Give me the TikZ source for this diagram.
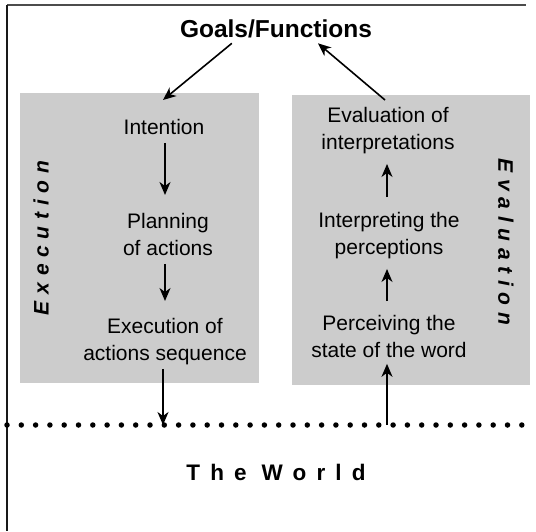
\documentclass[tikz,border=0pt]{standalone}
\usepackage{fontspec}
\setmainfont{Liberation Sans}
\usetikzlibrary{arrows.meta}
\begin{document}
\begin{tikzpicture}[x=1pt,y=-1pt,
  arr/.style={line width=1.6pt,-{Stealth[length=13pt,width=11pt,inset=4pt]}},
  lbl/.style={font=\fontsize{21}{27}\selectfont, align=center, inner sep=0pt, anchor=north},
  side/.style={font=\fontsize{21}{24}\selectfont\bfseries\itshape\addfontfeature{LetterSpace=32}, inner sep=0pt},
  panel/.style={fill=black!20, draw=none}]
\useasboundingbox (0,0) rectangle (536,531);
% frame
\draw[line width=1.6pt, black!70] (7,5) -- (526,5);
\draw[line width=1.8pt, black!90] (7,5) -- (7,531);
% panels
\fill[panel] (20,93) rectangle (259,383);
\fill[panel] (292,95) rectangle (530,385);
% goals
\node[font=\fontsize{24.5}{28}\selectfont\bfseries, inner sep=0pt] (goals) at (276,29) {Goals/Functions};
% execution column
\node[lbl] (intention) at (164,119) {Intention};
\node[lbl] (planning) at (168,213) {Planning\\of actions};
\node[lbl] (execseq) at (165,318) {Execution of\\actions sequence};
% evaluation column
\node[lbl] (evalint) at (388,107) {Evaluation of\\interpretations};
\node[lbl] (interp) at (389,212) {Interpreting the\\perceptions};
\node[lbl] (perceiv) at (389,315) {Perceiving the\\state of the word};
% side labels
\node[side, rotate=90] (exlabel) at (41,238) {Execution};
\node[side, rotate=-90] (evlabel) at (506,242) {Evaluation};
% world
\draw[line width=5.5pt, line cap=round, dash pattern=on 0pt off 14.3pt] (7,425) -- (536,425);
\coordinate (wl) at (163,425);
\coordinate (wr) at (387,425);
\node[font=\fontsize{22.5}{26}\selectfont\bfseries\addfontfeature{LetterSpace=45}, inner sep=0pt] (world) at (276,472) {The\hspace{15pt}World};
% connectors
\coordinate (gl) at (163,100);
\coordinate (gr) at (385,100);
\draw[arr] (goals.south west) ++(52,5) coordinate (gs1) -- (gl);
\draw[arr] (gr) -- ([xshift=42pt,yshift=-5pt]goals.south);
\draw[arr] ([xshift=1pt,yshift=-8pt]intention.south) -- ([xshift=-3pt,yshift=18pt]planning.north);
\draw[arr] ([xshift=-3pt,yshift=-8pt]planning.south) -- ([yshift=17pt]execseq.north);
\draw[arr] ([xshift=-2pt,yshift=-4pt]execseq.south) -- (wl);
\draw[arr] (wr) -- ([xshift=-2pt,yshift=-6pt]perceiv.south);
\draw[arr] ([xshift=-2pt,yshift=14pt]perceiv.north) -- ([xshift=-2pt,yshift=-10pt]interp.south);
\draw[arr] ([xshift=-2pt,yshift=15pt]interp.north) -- ([xshift=-1pt,yshift=-10pt]evalint.south);
\end{tikzpicture}
\end{document}
